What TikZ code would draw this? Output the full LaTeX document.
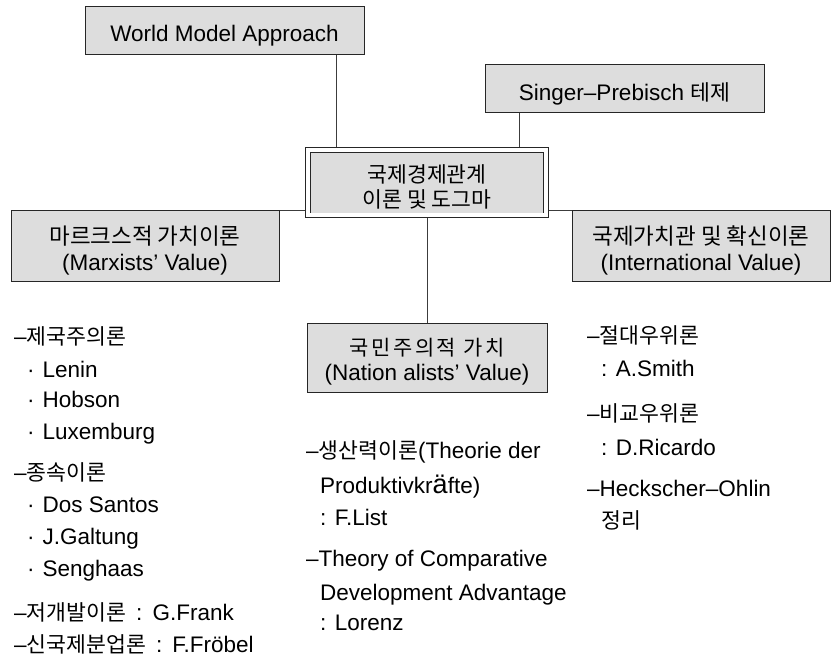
\documentclass[tikz,border=0pt]{standalone}
\usepackage{fontspec}
\setmainfont{Liberation Sans}
\newfontfamily\kr[Scale=0.96]{Noto Sans CJK KR}
\newfontfamily\krb[Scale=1.0]{Noto Sans CJK KR}
\newfontfamily\krw[Scale=0.93,LetterSpace=12]{Noto Sans CJK KR}
\usetikzlibrary{backgrounds}
\definecolor{boxgray}{RGB}{221,221,221}
\definecolor{linegray}{RGB}{60,60,60}
\newcommand\bulit{\makebox[15.5pt][l]{·}}
\newcommand\colsp{\hspace{0.45em}:\hspace{0.45em}}
\begin{document}
\begin{tikzpicture}[x=1pt,y=-1pt,
  box/.style={draw=black!85, fill=boxgray, line width=1pt, inner sep=0pt},
  boxtext/.style={inner sep=0pt, align=center, yshift=-4.5pt, font=\fontsize{22.5}{26}\selectfont},
  conn/.style={draw=linegray, line width=1pt},
  item/.style={anchor=base west, inner sep=0pt, font=\fontsize{22.5}{27}\selectfont}]
\useasboundingbox (0,0) rectangle (831,658);
% boxes
\node[box, minimum width=279pt, minimum height=48pt] (wma) at (224.5,31) {};
\node[boxtext] (wmat) at (wma.center) {World Model Approach};
\node[box, minimum width=279pt, minimum height=48pt] (sp) at (624.5,89) {};
\node[boxtext] (spt) at (sp.center) {Singer–Prebisch {\kr 테제}};
\node[box, double=white, double distance=4pt, line width=0.9pt, minimum width=238pt, minimum height=65.5pt] (ctr) at (427,182.75) {};
\node[boxtext] (ctrt) at (ctr.center) {{\kr 국제경제관계}\\[-1pt]{\kr 이론 및 도그마}};
\node[box, minimum width=268pt, minimum height=70pt] (marx) at (145,246) {};
\node[boxtext] (marxt) at (marx.center) {{\krb 마르크스적 가치이론}\\(Marxists’ Value)};
\node[box, minimum width=258pt, minimum height=70pt] (intl) at (701,246) {};
\node[boxtext] (intlt) at (intl.center) {{\krb 국제가치관 및 확신이론}\\(International Value)};
\node[box, minimum width=240pt, minimum height=69pt] (nat) at (427,357.5) {};
\node[boxtext] (natt) at (nat.center) {{\krw 국민주의적 가치}\\[-1pt](Nation alists’ Value)};
% connectors
\path (336,0) coordinate (xw) (519,0) coordinate (xs);
\begin{scope}[on background layer]
\draw[conn] (wma.south -| xw) -- (ctr.north -| xw);
\draw[conn] (sp.south -| xs) -- (ctr.north -| xs);
\draw[conn] (marx.north east) -- (marx.north east -| ctr.center);
\draw[conn] (intl.north west) -- (intl.north west -| ctr.center);
\draw[conn] (ctr.south) -- (nat.north);
\end{scope}
% left column
\node[item] (a1) at (14,344) {–{\kr 제국주의론}};
\node[item] (a2) at (27,377) {\bulit Lenin};
\node[item] (a3) at (27,407) {\bulit Hobson};
\node[item] (a4) at (27,439) {\bulit Luxemburg};
\node[item] (a5) at (14,480) {–{\kr 종속이론}};
\node[item] (a6) at (27,512) {\bulit Dos Santos};
\node[item] (a7) at (27,544) {\bulit J.Galtung};
\node[item] (a8) at (27,576) {\bulit Senghaas};
\node[item] (a9) at (14,620) {–{\kr 저개발이론}\colsp G.Frank};
\node[item] (a10) at (14,652) {–{\kr 신국제분업론}\colsp F.Fröbel};
% middle column
\node[item] (b1) at (306,458) {–{\kr 생산력이론}(Theorie der};
\node[item] (b2) at (320,493) {Produktivkr{\fontsize{27}{27}\selectfont ä}fte)};
\node[item] (b3) at (320,525) {: F.List};
\node[item] (b4) at (306,566) {–Theory of Comparative};
\node[item] (b5) at (320,600) {Development Advantage};
\node[item] (b6) at (320,630) {: Lorenz};
% right column
\node[item] (c1) at (587,343) {–{\kr 절대우위론}};
\node[item] (c2) at (601,376) {: A.Smith};
\node[item] (c3) at (587,421) {–{\kr 비교우위론}};
\node[item] (c4) at (601,455) {: D.Ricardo};
\node[item] (c5) at (587,496) {–Heckscher–Ohlin};
\node[item] (c6) at (601,528) {{\kr 정리}};
\end{tikzpicture}
\end{document}
